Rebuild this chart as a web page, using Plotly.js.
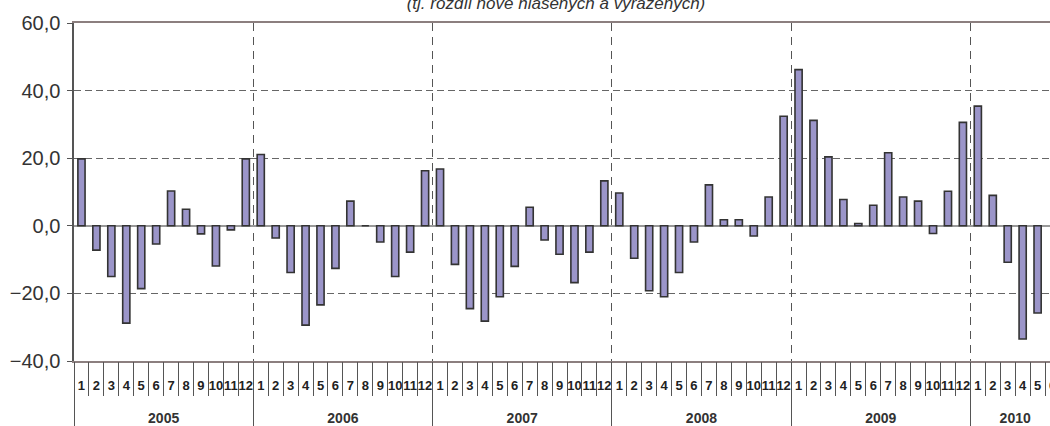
<!DOCTYPE html>
<html>
<head>
<meta charset="utf-8">
<script src="https://cdn.plot.ly/plotly-3.0.1.min.js"></script>
<style>
html,body{margin:0;padding:0;overflow:hidden;background:#fff;}
#chart{width:1066px;height:426px;}
</style>
</head>
<body>
<div id="chart"></div>
<script>
// ---- data ----
const years = ['2005', '2006', '2007', '2008', '2009', '2010'];
const monthLabels = ['1','2','3','4','5','6','7','8','9','10','11','12'];
const v2005 = [19.8, -7.2, -15.0, -28.8, -18.6, -5.4, 10.3, 4.9, -2.4, -11.9, -1.2, 19.8];
const v2006 = [21.1, -3.6, -13.8, -29.4, -23.4, -12.6, 7.3, 0.0, -4.8, -15.0, -7.8, 16.3];
const v2007 = [16.8, -11.4, -24.5, -28.2, -21.0, -12.0, 5.5, -4.2, -8.4, -16.8, -7.8, 13.3];
const v2008 = [9.7, -9.6, -19.2, -21.0, -13.8, -4.8, 12.1, 1.8, 1.8, -3.0, 8.5, 32.4];
const v2009 = [46.2, 31.2, 20.4, 7.8, 0.7, 6.1, 21.6, 8.5, 7.3, -2.3, 10.2, 30.6];
const v2010 = [35.4, 9.0, -10.8, -33.5, -25.8, null];
const titleText = '(tj. rozdíl nově hlášených a vyřazených)';
const yTicks = [-40, -20, 0, 20, 40, 60];

// ---- build multicategory x ----
const series = [v2005, v2006, v2007, v2008, v2009, v2010];
const xYear = [], xMonth = [], yVals = [], monthIdx = [], yearCenters = [];
series.forEach((arr, i) => {
  const start = yVals.length;
  arr.forEach((v, j) => {
    monthIdx.push(yVals.length);
    xYear.push(years[i]);
    xMonth.push(monthLabels[j]);
    yVals.push(v);
  });
  yearCenters.push(start + (arr.length - 1) / 2);
});
const n = yVals.length;
const xr = [-0.5, n - 0.5];

const FONT = 'Liberation Sans, Arial, sans-serif';
const trace = {
  type: 'bar',
  x: [xYear, xMonth],
  y: yVals,
  marker: {color: '#9b95c9', line: {color: '#333333', width: 1.6}},
  hoverinfo: 'y'
};

const overlay = (extra) => Object.assign({
  overlaying: 'x', anchor: 'y', side: 'bottom', range: xr,
  showgrid: false, zeroline: false, showline: false, ticks: ''
}, extra);

const layout = {
  width: 1066, height: 426,
  margin: {l: 74, r: 6, t: 23, b: 65},
  paper_bgcolor: '#ffffff', plot_bgcolor: '#ffffff',
  separators: ', ',
  showlegend: false,
  bargap: 0.52,
  font: {family: FONT, color: '#333333'},
  title: {
    text: titleText,
    font: {family: FONT, size: 17, style: 'italic', color: '#333333'},
    x: 556 / 1066, xanchor: 'center',
    yref: 'container', y: 0.992, yanchor: 'middle'
  },
  xaxis: {
    type: 'multicategory',
    range: xr,
    showline: true, linecolor: '#8c7f7f', linewidth: 1.6, mirror: true,
    ticks: '', showgrid: false, showdividers: false, showticklabels: false,
    zeroline: false
  },
  // month labels
  xaxis2: overlay({
    tickmode: 'array', tickvals: monthIdx, ticktext: xMonth,
    tickangle: 0, ticklabelstandoff: 15,
    tickfont: {family: FONT, size: 13, color: '#222222', weight: 'bold'}
  }),
  // year labels
  xaxis3: overlay({
    tickmode: 'array', tickvals: yearCenters, ticktext: years,
    tickangle: 0, ticklabelstandoff: 47,
    tickfont: {family: FONT, size: 14, color: '#333333', weight: 'bold'}
  }),
  // month separators
  xaxis4: overlay({
    tick0: -0.5, dtick: 1, showticklabels: false,
    ticks: 'outside', ticklen: 34, tickcolor: '#555555', tickwidth: 1
  }),
  // year separators + vertical dashed grid
  xaxis5: overlay({
    tick0: -0.5, dtick: 12, showticklabels: false,
    ticks: 'outside', ticklen: 66, tickcolor: '#555555', tickwidth: 1,
    showgrid: true, gridcolor: '#555555', gridwidth: 1, griddash: '8px,6px'
  }),
  yaxis: {
    range: [-40, 60], tickvals: yTicks, tickformat: '.1f',
    showline: true, linecolor: '#555555', linewidth: 1.6,
    ticks: 'outside', ticklen: 5, tickcolor: '#555555', ticklabelstandoff: 3,
    showgrid: true, gridcolor: '#666666', gridwidth: 1, griddash: '7px,4px',
    zeroline: true, zerolinecolor: '#999999', zerolinewidth: 1.6,
    tickfont: {family: FONT, size: 20, color: '#333333'}
  }
};

const helpers = ['x2', 'x3', 'x4', 'x5'].map(ax => (
  {type: 'scatter', x: [null], y: [null], xaxis: ax, yaxis: 'y', hoverinfo: 'skip', showlegend: false}
));

Plotly.newPlot('chart', [...helpers, trace], layout, {displayModeBar: false, staticPlot: true});
</script>
</body>
</html>
